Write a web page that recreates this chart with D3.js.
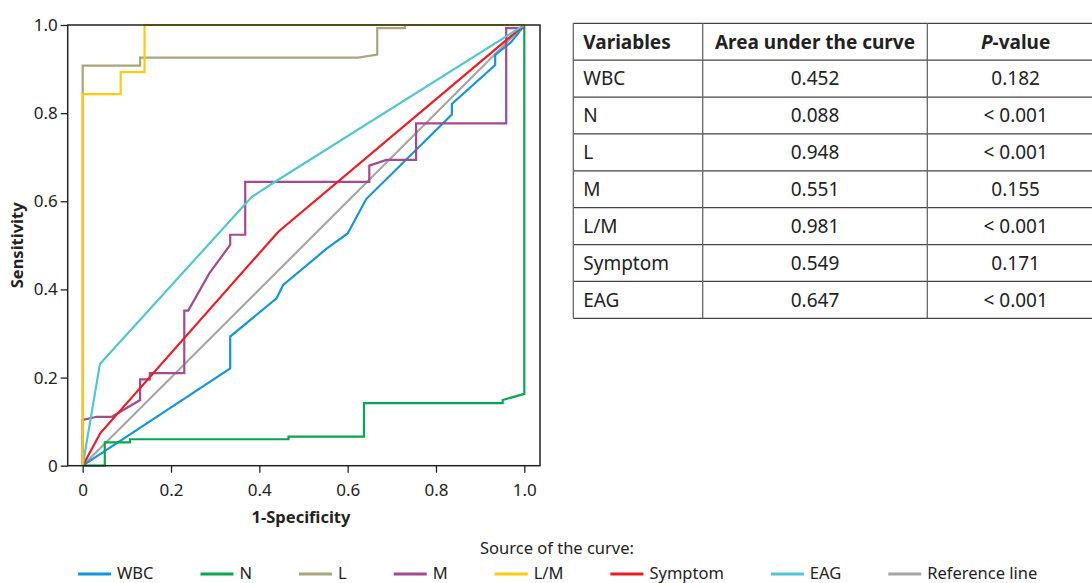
<!DOCTYPE html>
<html>
<head>
<meta charset="utf-8">
<script src="https://cdn.jsdelivr.net/npm/d3@7"></script>
<style>
  body { margin: 0; background: #fff; }
  text { font-family: "Noto Sans", sans-serif; fill: #222; }
</style>
</head>
<body>
<div id="chart"></div>
<script>
// ROC curves as [1-specificity, sensitivity]
const wbc = [[0,0],[0.334,0.221],[0.334,0.293],[0.439,0.380],[0.454,0.410],[0.553,0.493],[0.600,0.527],[0.642,0.605],[0.836,0.797],[0.836,0.821],[0.934,0.909],[0.934,0.932],[0.969,0.960],[0.986,0.981],[1,1]];
const nCurve = [[0,0],[0.05,0],[0.05,0.053],[0.107,0.053],[0.107,0.060],[0.466,0.060],[0.466,0.066],[0.637,0.066],[0.637,0.142],[0.951,0.142],[0.951,0.149],[1,0.163],[1,1]];
const lCurve = [[0,0],[0,0.908],[0.130,0.908],[0.130,0.926],[0.624,0.926],[0.667,0.933],[0.667,0.993],[0.730,0.993],[0.730,1],[1,1]];
const mCurve = [[0,0],[0,0.104],[0.032,0.111],[0.066,0.111],[0.130,0.149],[0.130,0.196],[0.152,0.196],[0.152,0.210],[0.230,0.210],[0.230,0.352],[0.239,0.352],[0.287,0.437],[0.334,0.501],[0.334,0.524],[0.368,0.524],[0.368,0.644],[0.649,0.644],[0.649,0.681],[0.688,0.694],[0.755,0.694],[0.755,0.777],[0.959,0.777],[0.959,0.993],[0.998,0.993],[1,1]];
const lmCurve = [[0,0],[0,0.843],[0.086,0.843],[0.086,0.893],[0.140,0.893],[0.140,1],[1,1]];
const symptom = [[0,0],[0.040,0.074],[0.443,0.531],[1,1]];
const eag = [[0,0],[0.039,0.231],[0.383,0.610],[0.432,0.642],[1,1]];
const refLine = [[0,0],[1,1]];

const seriesNames = ["WBC", "N", "L", "M", "L/M", "Symptom", "EAG", "Reference line"];
const seriesData = [wbc, nCurve, lCurve, mCurve, lmCurve, symptom, eag, refLine];
const seriesColors = ["#1496da", "#0aa551", "#aaa67c", "#a44a8e", "#ffca0a", "#ec1c24", "#52c5d1", "#a6a6a6"];
const drawOrder = [7, 0, 1, 2, 3, 5, 6, 4];

const xTicks = [0, 0.2, 0.4, 0.6, 0.8, 1.0];
const yTicks = [0, 0.2, 0.4, 0.6, 0.8, 1.0];

// table
const tableHeader = ["Variables", "Area under the curve", "P-value"];
const tableVars = ["WBC", "N", "L", "M", "L/M", "Symptom", "EAG"];
const tableAuc = ["0.452", "0.088", "0.948", "0.551", "0.981", "0.549", "0.647"];
const tableP = ["0.182", "< 0.001", "< 0.001", "0.155", "< 0.001", "0.171", "< 0.001"];

const w = 1092, h = 583;
const svg = d3.select("#chart").append("svg").attr("width", w).attr("height", h);

// plot box
const box = { left: 67.7, right: 540, top: 25, bottom: 465.7 };
const x = d3.scaleLinear().domain([0, 1]).range([82.7, 524.3]);
const y = d3.scaleLinear().domain([0, 1]).range([box.bottom, box.top]);

const fmt = d => d === 0 ? "0" : d3.format(".1f")(d);

const xAxisG = svg.append("g")
    .attr("transform", `translate(0,${box.bottom})`)
    .call(d3.axisBottom(x).tickValues(xTicks).tickFormat(fmt).tickSize(7).tickSizeOuter(0));
const yAxisG = svg.append("g")
    .attr("transform", `translate(${box.left},0)`)
    .call(d3.axisLeft(y).tickValues(yTicks).tickFormat(fmt).tickSize(7).tickSizeOuter(0));

[xAxisG, yAxisG].forEach(g => {
    g.select(".domain").remove();
    g.selectAll(".tick line").attr("stroke", "#222").attr("stroke-width", 1.3);
    g.selectAll(".tick text").style("font-size", "17px").attr("fill", "#222")
        .style("font-family", "'Noto Sans', sans-serif");
});
xAxisG.selectAll(".tick text").attr("y", 30).attr("dy", 0);
yAxisG.selectAll(".tick text").attr("x", -10);

// curves
const line = d3.line().x(d => x(d[0])).y(d => y(d[1]));
const curves = svg.append("g");
drawOrder.forEach(i => {
    curves.append("path")
        .datum(seriesData[i])
        .attr("d", line)
        .attr("fill", "none")
        .attr("stroke", seriesColors[i])
        .attr("stroke-width", 2.2);
});

// frame
svg.append("rect")
    .attr("x", box.left).attr("y", box.top)
    .attr("width", box.right - box.left).attr("height", box.bottom - box.top)
    .attr("fill", "none").attr("stroke", "#222").attr("stroke-width", 1.5);

// axis titles
svg.append("text")
    .attr("x", 301).attr("y", 523)
    .attr("text-anchor", "middle")
    .style("font-size", "16.5px").style("font-weight", "bold")
    .text("1-Specificity");
svg.append("text")
    .attr("transform", `translate(23,${(box.top + box.bottom) / 2}) rotate(-90)`)
    .attr("text-anchor", "middle")
    .style("font-size", "16.5px").style("font-weight", "bold")
    .text("Sensitivity");

// legend
svg.append("text")
    .attr("x", 557).attr("y", 554)
    .attr("text-anchor", "middle")
    .style("font-size", "16.5px")
    .text("Source of the curve:");

const legend = svg.append("g");
let lx = 78;
seriesNames.forEach((name, i) => {
    legend.append("line")
        .attr("x1", lx).attr("x2", lx + 33)
        .attr("y1", 574).attr("y2", 574)
        .attr("stroke", seriesColors[i]).attr("stroke-width", 3);
    const t = legend.append("text")
        .attr("x", lx + 39).attr("y", 579)
        .style("font-size", "16.5px")
        .text(name);
    lx += 39 + t.node().getComputedTextLength() + 47;
});

// table
const colX = [573.3, 702.7, 927.3, 1104];
const rowTop = 23.3, rowH = 36.875;
const tbl = svg.append("g");
const nRows = tableVars.length + 1;

for (let r = 0; r <= nRows; r++) {
    tbl.append("line")
        .attr("x1", colX[0]).attr("x2", colX[3])
        .attr("y1", rowTop + r * rowH).attr("y2", rowTop + r * rowH)
        .attr("stroke", "#444").attr("stroke-width", 1.3);
}
colX.forEach(cx => {
    tbl.append("line")
        .attr("x1", cx).attr("x2", cx)
        .attr("y1", rowTop).attr("y2", rowTop + nRows * rowH)
        .attr("stroke", "#666").attr("stroke-width", 1.3);
});

const cellText = (r, c, txt, bold) => {
    const t = tbl.append("text")
        .attr("y", rowTop + r * rowH + rowH / 2 + 6.8)
        .style("font-size", "19px")
        .style("font-weight", bold ? "bold" : "normal");
    if (c === 0) t.attr("x", colX[0] + 10);
    else t.attr("x", (colX[c] + colX[c + 1]) / 2).attr("text-anchor", "middle");
    return t;
};

tableHeader.forEach((hd, c) => {
    const t = cellText(0, c, hd, true);
    if (hd === "P-value") {
        t.append("tspan").style("font-style", "italic").text("P");
        t.append("tspan").text("-value");
    } else {
        t.text(hd);
    }
});
tableVars.forEach((v, i) => {
    cellText(i + 1, 0, v, false).text(v);
    cellText(i + 1, 1, tableAuc[i], false).text(tableAuc[i]);
    cellText(i + 1, 2, tableP[i], false).text(tableP[i]);
});
</script>
</body>
</html>
